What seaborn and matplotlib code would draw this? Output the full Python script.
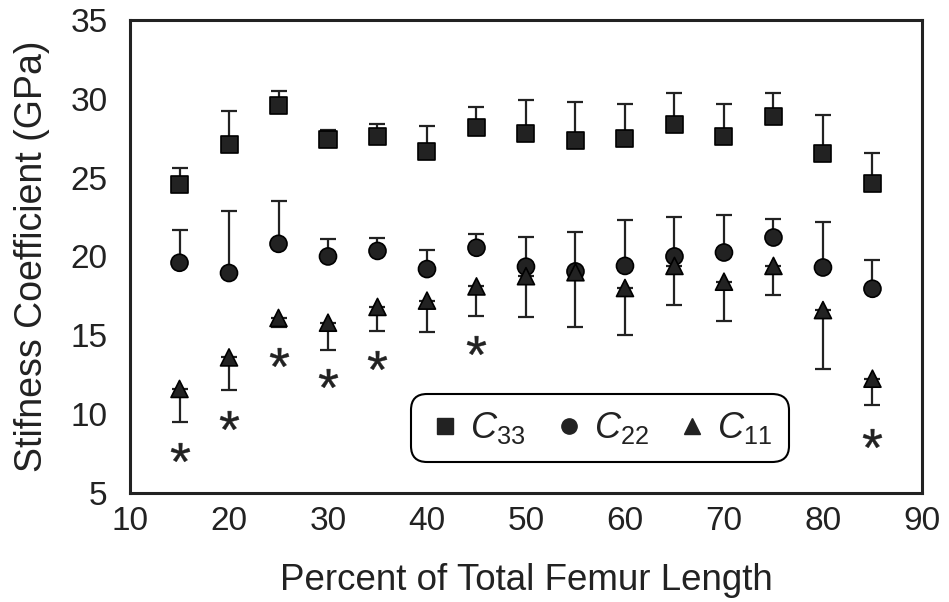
import numpy as np
import pandas as pd
import seaborn as sns
import matplotlib.pyplot as plt
from matplotlib.lines import Line2D
from matplotlib.ticker import MultipleLocator

# percent of total femur length
pct = [15, 20, 25, 30, 35, 40, 45, 50, 55, 60, 65, 70, 75, 80, 85]

c33 = [24.55, 27.1, 29.6, 27.4, 27.6, 26.65, 28.15, 27.8, 27.35, 27.5, 28.35, 27.6, 28.9, 26.5, 24.6]
c33_top = [25.6, 29.2, 30.5, 28.0, 28.4, 28.3, 29.45, 29.9, 29.8, 29.65, 30.35, 29.65, 30.35, 29.0, 26.55]

c22 = [19.6, 18.95, 20.8, 20.0, 20.35, 19.2, 20.55, 19.35, 19.05, 19.4, 20.0, 20.25, 21.2, 19.3, 17.95]
c22_top = [21.7, 22.9, 23.5, 21.1, 21.15, 20.4, 21.45, 21.25, 21.55, 22.3, 22.5, 22.65, 22.4, 22.2, 19.8]

c11 = [11.6, 13.6, 16.1, 15.8, 16.8, 17.2, 18.1, 18.75, 19.0, 18.0, 19.4, 18.4, 19.4, 16.6, 12.25]
c11_bot = [9.5, 11.55, 15.55, 14.05, 15.3, 15.2, 16.25, 16.15, 15.5, 15.05, 16.9, 15.9, 17.55, 12.85, 10.6]

# significance markers
star_x = [15, 20, 25, 30, 35, 45, 85]
star_y = [7.6, 9.65, 13.65, 12.3, 13.45, 14.4, 8.5]

sns.set_style("white")
plt.rcParams['font.family'] = ['Liberation Sans', 'DejaVu Sans']
plt.rcParams['mathtext.fontset'] = 'custom'
plt.rcParams['mathtext.rm'] = 'Liberation Sans'
plt.rcParams['mathtext.it'] = 'Liberation Sans:italic'

ink = '#222222'

df = pd.DataFrame({
    'pct': pct * 3,
    'val': c33 + c22 + c11,
    'coef': ['C33'] * 15 + ['C22'] * 15 + ['C11'] * 15,
})

fig = plt.figure(figsize=(9.49, 6.02), dpi=100)
ax = fig.add_axes([0.137, 0.181, 0.8345, 0.786])

pct_a = np.array(pct)
ax.errorbar(pct_a, c33, yerr=[np.zeros(15), np.array(c33_top) - np.array(c33)],
            fmt='none', ecolor=ink, elinewidth=1.6, capsize=6, capthick=1.6, zorder=1)
ax.errorbar(pct_a, c22, yerr=[np.zeros(15), np.array(c22_top) - np.array(c22)],
            fmt='none', ecolor=ink, elinewidth=1.6, capsize=6, capthick=1.6, zorder=1)
ax.errorbar(pct_a, c11, yerr=[np.array(c11) - np.array(c11_bot), np.zeros(15)],
            fmt='none', ecolor=ink, elinewidth=1.6, capsize=6, capthick=1.6, zorder=1)

sns.scatterplot(data=df, x='pct', y='val', hue='coef', style='coef',
                palette={'C33': ink, 'C22': ink, 'C11': ink},
                markers={'C33': 's', 'C22': 'o', 'C11': '^'},
                s=150, edgecolor='black', linewidth=1.2, legend=False, ax=ax, zorder=3)

ax.scatter(star_x, star_y, marker=r'$*$', s=190, color=ink, linewidths=0.3, zorder=3)

ax.set_xlim(10, 90)
ax.set_ylim(5, 35)
ax.xaxis.set_major_locator(MultipleLocator(10))
ax.xaxis.set_minor_locator(MultipleLocator(5))
ax.yaxis.set_major_locator(MultipleLocator(5))
ax.tick_params(axis='both', which='both', direction='in', colors=ink,
               labelsize=24, width=1.6, top=False, right=False)
ax.tick_params(axis='x', which='both', length=8, pad=9)
ax.tick_params(axis='y', which='both', length=12, pad=16)
for s in ax.spines.values():
    s.set_linewidth(2.2)
    s.set_color(ink)

ax.set_xlabel('Percent of Total Femur Length', fontsize=26.5, color=ink, labelpad=19)
ax.set_ylabel('Stifness Coefficient (GPa)', fontsize=27, color=ink, labelpad=15)

handles = [
    Line2D([], [], marker='s', ls='none', color=ink, markersize=11),
    Line2D([], [], marker='o', ls='none', color=ink, markersize=11),
    Line2D([], [], marker='^', ls='none', color=ink, markersize=11),
]
labels = [r'$\mathit{C}_{\mathrm{33}}$', r'$\mathit{C}_{\mathrm{22}}$', r'$\mathit{C}_{\mathrm{11}}$']
leg = ax.legend(handles, labels, loc='center', bbox_to_anchor=(0.593, 0.137), ncol=3,
                fontsize=26, frameon=True, fancybox=True, handletextpad=0.2,
                columnspacing=0.7, borderpad=0.45, handlelength=1.0, labelcolor=ink)
leg.get_frame().set_boxstyle('round', pad=0, rounding_size=0.45)
leg.get_frame().set_edgecolor('black')
leg.get_frame().set_linewidth(1.5)
leg.get_frame().set_alpha(1)

fig.savefig('out.png', dpi=100)
